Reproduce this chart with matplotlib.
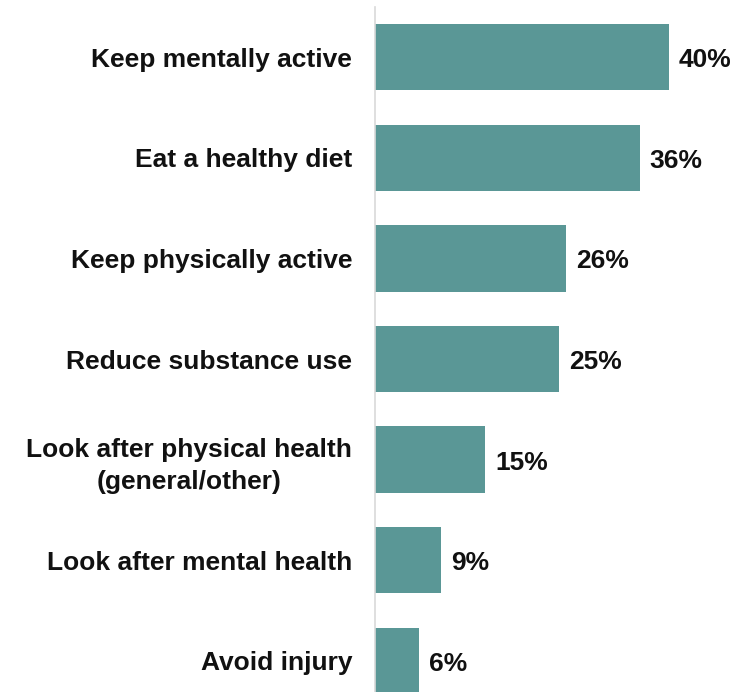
import matplotlib.pyplot as plt

plt.rcParams['font.family'] = ['Liberation Sans', 'DejaVu Sans']

categories = ['Keep mentally active', 'Eat a healthy diet', 'Keep physically active',
              'Reduce substance use', 'Look after physical health\n(general/other)',
              'Look after mental health', 'Avoid injury']
values = [40, 36, 26, 25, 15, 9, 6]

fig = plt.figure(figsize=(7.36, 6.92), dpi=100)
ax = fig.add_axes([375 / 736, -19 / 692, 355 / 736, 704 / 692])

pos = range(len(categories))
ax.barh(pos, values, height=0.66, color='#5a9796')
for p, v in zip(pos, values):
    ax.text(v + 1.35, p + 0.03, f'{v}%', va='center', ha='left',
            fontsize=19, fontweight='bold', color='#111111')

ax.set_yticks(list(pos))
ax.set_yticklabels(categories, fontsize=19, fontweight='bold', ha='right',
                   multialignment='center', linespacing=1.4, color='#111111')
ax.tick_params(axis='y', length=0, pad=16.5)
ax.set_ylim(len(categories) - 0.5, -0.5)
ax.set_xlim(0, 48.3)
ax.set_xticks([])

for s in ['top', 'right', 'bottom']:
    ax.spines[s].set_visible(False)
ax.spines['left'].set_color('#d9d9d9')
ax.spines['left'].set_linewidth(1.2)

fig.savefig('out.png', dpi=100)
